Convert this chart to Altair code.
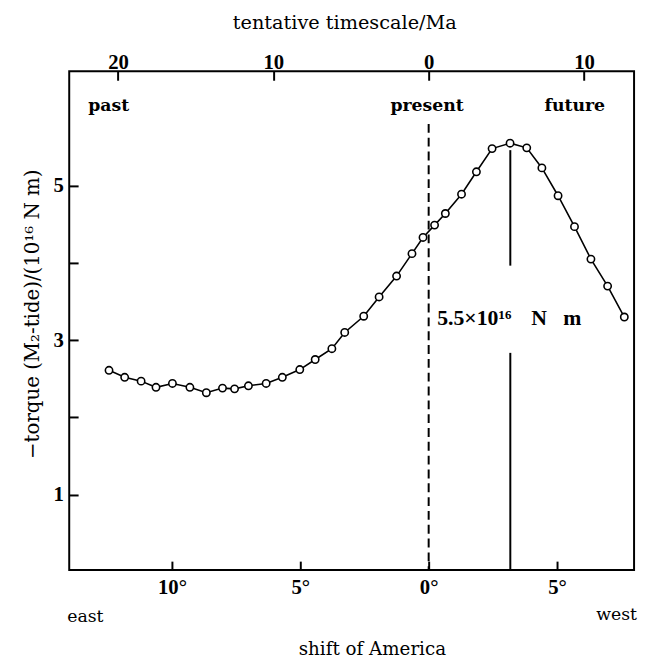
import altair as alt
import pandas as pd

# ---- data ----
shift_deg = [-12.45, -11.84, -11.20, -10.62, -9.98, -9.30, -8.66, -8.03, -7.56, -7.02,
             -6.33, -5.70, -5.02, -4.42, -3.77, -3.27, -2.53, -1.93, -1.25, -0.65,
             -0.22, 0.23, 0.65, 1.28, 1.86, 2.47, 3.17, 3.82, 4.41, 5.04,
             5.68, 6.32, 6.97, 7.62]
torque = [2.61, 2.52, 2.47, 2.39, 2.44, 2.39, 2.32, 2.38, 2.37, 2.41,
          2.44, 2.52, 2.62, 2.75, 2.89, 3.10, 3.31, 3.56, 3.83, 4.12,
          4.33, 4.49, 4.64, 4.89, 5.18, 5.48, 5.55, 5.49, 5.23, 4.87,
          4.47, 4.05, 3.70, 3.30]

bottom_ticks = [-10, -5, 0, 5]
top_ticks_ma = [-20, -10, 0, 10]
y_ticks = [1, 2, 3, 4, 5]
y_labels = [1, 3, 5]

present_x = 0.0
present_top = 5.80
peak_x = 3.18
peak_upper = [5.46, 3.965]
peak_lower = [2.836]
peak_num = "5.5×10¹⁶"
peak_unit = "N\u00a0\u00a0\u00a0m"
deg_per_ma = 0.605

W, H = 572, 505
xdom = [-14, 8]
ydom = [0.025, 6.48]
madom = [xdom[0] / deg_per_ma, xdom[1] / deg_per_ma]
TICK = 9  # inward tick length, px

NUMF = "Liberation Serif"
TXTF = "DejaVu Serif"

xs = alt.Scale(domain=xdom, nice=False, zero=False)
ys = alt.Scale(domain=ydom, nice=False, zero=False)
mas = alt.Scale(domain=madom, nice=False, zero=False)

df = pd.DataFrame({"shift": shift_deg, "torque": torque})

# axes are pulled inside the frame by TICK px so that their ticks point inward
common = dict(ticks=True, tickSize=TICK, tickWidth=2, tickColor="black", offset=-TICK,
              domain=False, grid=False, labelFont=NUMF, labelFontWeight="bold",
              labelFontSize=21, labelColor="black", title=None)
x_axis = alt.Axis(values=bottom_ticks, labelExpr="abs(datum.value) + '°'",
                  labelBaseline="alphabetic", labelPadding=24, orient="bottom", **common)
y_labels_expr = "indexof(" + str(y_labels) + ", datum.value) >= 0 ? datum.label : ''"
y_axis = alt.Axis(values=y_ticks, labelExpr=y_labels_expr, labelPadding=6, orient="left",
                  **common)
top_axis = alt.Axis(values=top_ticks_ma, labelExpr="abs(datum.value)",
                    labelBaseline="alphabetic", labelPadding=3, orient="top", **common)


def X(field):
    return alt.X(field, scale=xs, axis=x_axis, title=None)


def Y(field):
    return alt.Y(field, scale=ys, axis=y_axis, title=None)


line = alt.Chart(df).mark_line(color="black", strokeWidth=1.6).encode(
    x=X("shift:Q"), y=Y("torque:Q"))
pts = alt.Chart(df).mark_point(shape="circle", filled=True, fill="white", stroke="black",
                               strokeWidth=1.6, size=55, opacity=1).encode(
    x=X("shift:Q"), y=Y("torque:Q"))

dash_df = pd.DataFrame({"shift": [present_x], "torque": [present_top], "y2": [ydom[0]]})
dashed = alt.Chart(dash_df).mark_rule(color="black", strokeWidth=2, strokeDash=[9, 5]).encode(
    x=X("shift:Q"), y=Y("torque:Q"), y2="y2:Q")
solid_df = pd.DataFrame({"shift": [peak_x, peak_x],
                         "torque": [peak_upper[0], peak_lower[0]],
                         "y2": [peak_upper[1], ydom[0]]})
solid = alt.Chart(solid_df).mark_rule(color="black", strokeWidth=2).encode(
    x=X("shift:Q"), y=Y("torque:Q"), y2="y2:Q")

# labels inside the plot
lab_df = pd.DataFrame({"t": ["past", "present", "future"],
                       "shift": [-13.26, -0.06, 5.69], "torque": [5.97, 5.97, 5.97],
                       "a": ["left", "center", "center"]})
labs_l = alt.Chart(lab_df[lab_df.a == "left"]).mark_text(
    font=TXTF, fontWeight="bold", fontSize=17.5, align="left", baseline="alphabetic", color="black"
).encode(x=X("shift:Q"), y=Y("torque:Q"), text="t:N")
labs_c = alt.Chart(lab_df[lab_df.a == "center"]).mark_text(
    font=TXTF, fontWeight="bold", fontSize=17.5, align="center", baseline="alphabetic", color="black"
).encode(x=X("shift:Q"), y=Y("torque:Q"), text="t:N")

ann_df = pd.DataFrame({"t": [peak_num, peak_unit], "shift": [0.33, 4.0], "torque": [3.2, 3.2]})
ann = alt.Chart(ann_df).mark_text(
    font=NUMF, fontWeight="bold", fontSize=22, align="left", baseline="alphabetic", color="black"
).encode(x=X("shift:Q"), y=Y("torque:Q"), text="t:N")


def ptext(t, x, y, size=18, align="center", angle=0, weight="normal", baseline="alphabetic"):
    kw = dict(font=TXTF, fontSize=size, align=align, baseline=baseline, color="black",
              fontWeight=weight)
    if angle:
        kw["angle"] = angle
    return alt.Chart(pd.DataFrame({"t": [t]})).mark_text(**kw).encode(
        x=alt.value(x), y=alt.value(y), text="t:N")


east = ptext("east", -2, 558, size=17.5, align="left")
west = ptext("west", 575, 556, size=17.5, align="right")
xtitle = ptext("shift of America", 307, 591, size=18.5)
toptitle = ptext("tentative timescale/Ma", 279, -43, size=19.5)
ytitle = ptext("−torque (M₂-tide)/(10¹⁶ N m)", -37, 246, size=20, angle=270, baseline="middle")

bottom_layer = alt.layer(line, pts, dashed, solid, labs_l, labs_c, ann,
                         east, west, xtitle, toptitle, ytitle)

# top (timescale) axis; an invisible mark carries its scale
ma_df = pd.DataFrame({"m": top_ticks_ma})
top_layer = alt.Chart(ma_df).mark_point(opacity=0, size=1).encode(
    x=alt.X("m:Q", scale=mas, axis=top_axis, title=None), y=alt.value(0))

chart = alt.layer(bottom_layer, top_layer).resolve_scale(x="independent").properties(
    width=W, height=H,
    autosize=alt.AutoSizeParams(type="none"),
    padding={"left": 62, "top": 60, "right": 5, "bottom": 90},
).configure_view(stroke="black", strokeWidth=2)

chart.save("out.html", embed_options={"renderer": "svg", "actions": False})
